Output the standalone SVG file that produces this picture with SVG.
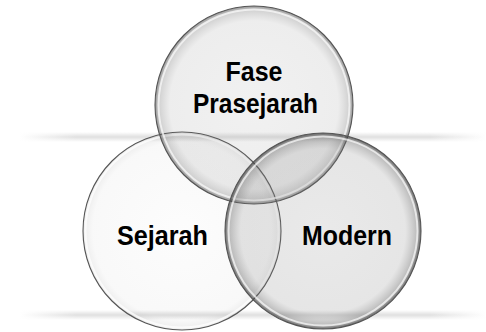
<svg xmlns="http://www.w3.org/2000/svg" width="486" height="332" viewBox="0 0 486 332">
<style>
.lbl{font-family:"Liberation Sans",Arial,sans-serif;font-weight:bold;font-size:28px;fill:#000;text-anchor:middle}
.rim{fill:none;stroke:#555;stroke-width:1.1}
.hl{fill:none;stroke:#fff;stroke-width:2;stroke-opacity:0.7}
</style>
<defs>
<linearGradient id="bandH" x1="0" y1="0" x2="1" y2="0">
<stop offset="0" stop-color="#fff"/>
<stop offset="0.12" stop-color="#e0e0e0"/>
<stop offset="0.88" stop-color="#e0e0e0"/>
<stop offset="1" stop-color="#fff"/>
</linearGradient>
<linearGradient id="bandV" x1="0" y1="0" x2="0" y2="1">
<stop offset="0" stop-color="#fff" stop-opacity="1"/>
<stop offset="0.5" stop-color="#fff" stop-opacity="0"/>
<stop offset="1" stop-color="#fff" stop-opacity="1"/>
</linearGradient>
<radialGradient id="gTop" cx="0.5" cy="0.5" r="0.5">
<stop offset="0" stop-color="#808080" stop-opacity="0.11"/>
<stop offset="0.85" stop-color="#808080" stop-opacity="0.14"/>
<stop offset="0.95" stop-color="#707070" stop-opacity="0.3"/>
<stop offset="1" stop-color="#404040" stop-opacity="0.55"/>
</radialGradient>
<radialGradient id="gLeft" cx="0.5" cy="0.5" r="0.5">
<stop offset="0" stop-color="#808080" stop-opacity="0.02"/>
<stop offset="0.9" stop-color="#808080" stop-opacity="0.05"/>
<stop offset="1" stop-color="#808080" stop-opacity="0.15"/>
</radialGradient>
<radialGradient id="gRight" cx="0.5" cy="0.5" r="0.5">
<stop offset="0" stop-color="#808080" stop-opacity="0.17"/>
<stop offset="0.84" stop-color="#808080" stop-opacity="0.2"/>
<stop offset="0.95" stop-color="#606060" stop-opacity="0.4"/>
<stop offset="1" stop-color="#303030" stop-opacity="0.7"/>
</radialGradient>
</defs>
<rect width="486" height="332" fill="#fff"/>
<g id="bands">
<rect x="20" y="132" width="466" height="10" fill="url(#bandH)"/>
<rect x="20" y="132" width="466" height="10" fill="url(#bandV)"/>
<rect x="20" y="310" width="466" height="10" fill="url(#bandH)"/>
<rect x="20" y="310" width="466" height="10" fill="url(#bandV)"/>
</g>
<g id="sejarah">
<circle cx="182" cy="231" r="99" fill="url(#gLeft)"/>
<circle cx="182" cy="231" r="96.5" class="hl"/>
<circle cx="182" cy="231" r="99" class="rim"/>
<text class="lbl" x="162.5" y="245" textLength="91" lengthAdjust="spacingAndGlyphs">Sejarah</text>
</g>
<g id="fase-prasejarah">
<circle cx="254" cy="105" r="99" fill="url(#gTop)"/>
<circle cx="254" cy="105" r="95.5" class="hl"/>
<circle cx="254" cy="105" r="99" class="rim"/>
<text class="lbl" x="254" y="80.5" textLength="57" lengthAdjust="spacingAndGlyphs">Fase</text>
<text class="lbl" x="255.5" y="113" textLength="125" lengthAdjust="spacingAndGlyphs">Prasejarah</text>
</g>
<g id="modern">
<circle cx="323" cy="231" r="98" fill="url(#gRight)"/>
<circle cx="323" cy="231" r="94.5" class="hl"/>
<circle cx="323" cy="231" r="98" class="rim"/>
<text class="lbl" x="347" y="245" textLength="90" lengthAdjust="spacingAndGlyphs">Modern</text>
</g>
</svg>
